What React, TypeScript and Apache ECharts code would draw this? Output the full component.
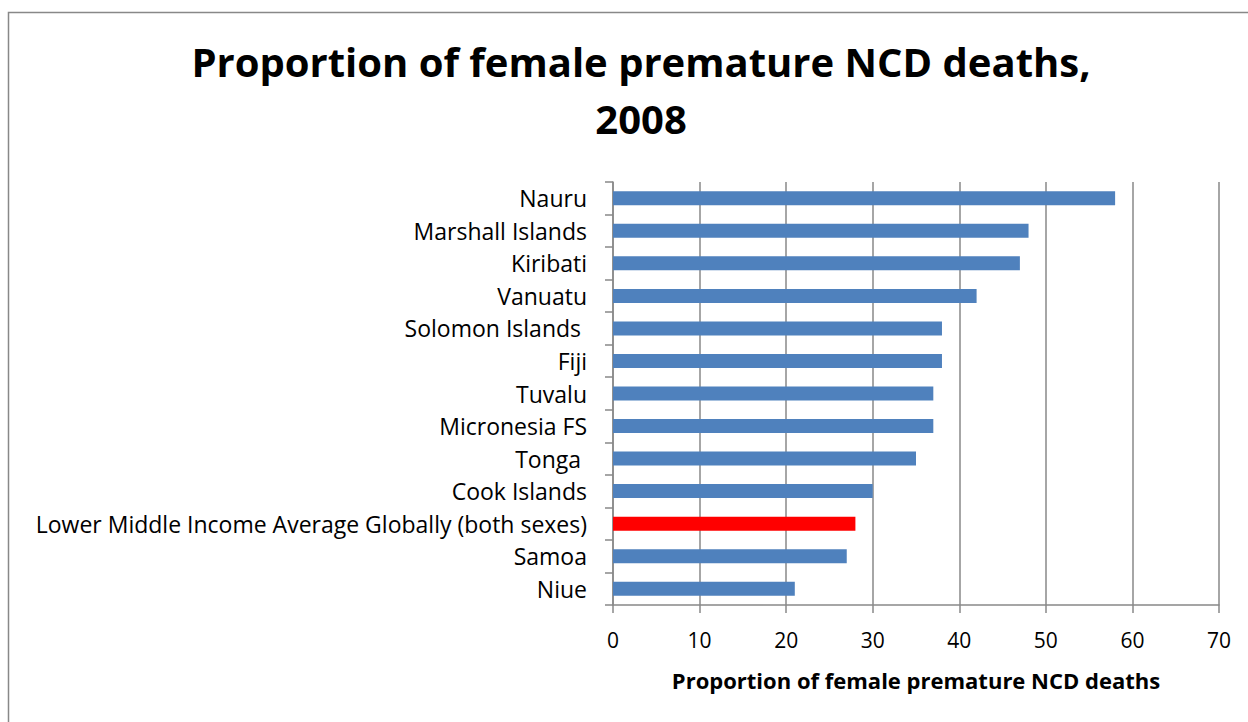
import React, { useEffect, useRef } from "react";
import * as echarts from "echarts";

const categories = [
  "Nauru",
  "Marshall Islands",
  "Kiribati",
  "Vanuatu",
  "Solomon Islands ",
  "Fiji",
  "Tuvalu",
  "Micronesia FS",
  "Tonga ",
  "Cook Islands",
  "Lower Middle Income Average Globally (both sexes)",
  "Samoa",
  "Niue",
];
const values = [58, 48, 47, 42, 38, 38, 37, 37, 35, 30, 28, 27, 21];
const highlightIndex = 10;
const xTicks = [0, 10, 20, 30, 40, 50, 60, 70];

const FONT = "'Open Sans', 'Noto Sans', sans-serif";

export default function App() {
  const ref = useRef<HTMLDivElement>(null);
  useEffect(() => {
    document.body.style.margin = "0";
    const chart = echarts.init(ref.current!, null, { renderer: "svg" });
    chart.setOption({
      animation: false,
      backgroundColor: "#ffffff",
      title: {
        text: "Proportion of female premature NCD deaths,\n2008",
        left: 636,
        textAlign: "center",
        top: 28,
        textStyle: {
          fontFamily: FONT,
          fontSize: 40,
          fontWeight: "bold",
          color: "#000",
          lineHeight: 57,
        },
      },
      graphic: [
        {
          type: "rect",
          shape: { x: 8.5, y: 12.5, width: 1300, height: 800 },
          style: { fill: "none", stroke: "#888", lineWidth: 1.5 },
          silent: true,
        },
      ],
      grid: { left: 613, right: 29, top: 182, bottom: 117 },
      xAxis: {
        type: "value",
        min: xTicks[0],
        max: xTicks[xTicks.length - 1],
        interval: 10,
        name: "Proportion of female premature NCD deaths",
        nameLocation: "middle",
        nameGap: 64,
        nameTextStyle: {
          fontFamily: FONT,
          fontSize: 22,
          fontWeight: "bold",
          color: "#000",
        },
        axisLine: { show: true, lineStyle: { color: "#888", width: 1.5 } },
        axisTick: { show: true, length: 8, lineStyle: { color: "#888", width: 1.5 } },
        axisLabel: {
          margin: 24,
          fontFamily: FONT,
          fontSize: 21,
          color: "#000",
        },
        splitLine: { show: true, lineStyle: { color: "#888", width: 1.5 } },
      },
      yAxis: {
        type: "category",
        data: categories,
        inverse: true,
        axisLine: { show: true, lineStyle: { color: "#888", width: 1.5 } },
        axisTick: { show: true, length: 8, lineStyle: { color: "#888", width: 1.5 } },
        axisLabel: {
          margin: 26,
          fontFamily: FONT,
          fontSize: 23,
          color: "#000",
        },
      },
      series: [
        {
          type: "bar",
          barWidth: 14,
          data: values.map((v, i) => ({
            value: v,
            itemStyle: { color: i === highlightIndex ? "#FF0000" : "#4F81BD" },
          })),
        },
      ],
    });
    return () => chart.dispose();
  }, []);
  return <div ref={ref} style={{ width: 1248, height: 722 }} />;
}
